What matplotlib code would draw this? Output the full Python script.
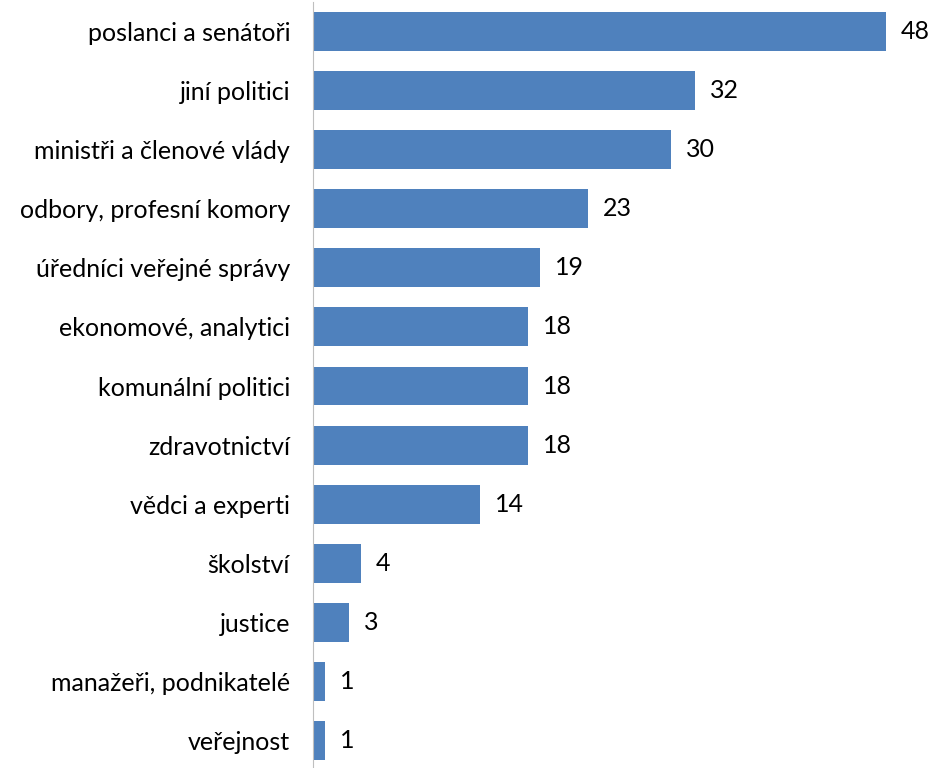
import matplotlib.pyplot as plt

categories = [
    "poslanci a senátoři",
    "jiní politici",
    "ministři a členové vlády",
    "odbory, profesní komory",
    "úředníci veřejné správy",
    "ekonomové, analytici",
    "komunální politici",
    "zdravotnictví",
    "vědci a experti",
    "školství",
    "justice",
    "manažeři, podnikatelé",
    "veřejnost",
]
values = [48, 32, 30, 23, 19, 18, 18, 18, 14, 4, 3, 1, 1]

plt.rcParams["font.family"] = ["Lato", "DejaVu Sans"]

fig = plt.figure(figsize=(9.33, 7.68), dpi=100)
ax = fig.add_axes([313 / 933, -2 / 768, (886 - 313) / 933, 1.0])

y = list(range(len(categories)))
bars = ax.barh(y, values, height=0.66, color="#4F81BD")
ax.set_ylim(len(categories) - 0.5, -0.5)
ax.set_xlim(0, 48)

for b, v in zip(bars, values):
    ax.text(b.get_width() + 1.25, b.get_y() + b.get_height() / 2, str(v),
            ha="left", va="center", fontsize=18, color="black", clip_on=False)

ax.set_yticks(y)
ax.set_yticklabels(categories, fontsize=18)
ax.tick_params(axis="y", length=0, pad=16.5)
ax.set_xticks([])
for side in ["top", "right", "bottom"]:
    ax.spines[side].set_visible(False)
ax.spines["left"].set_color("#BFBFBF")
ax.patch.set_visible(False)

fig.savefig("out.png", dpi=100)
